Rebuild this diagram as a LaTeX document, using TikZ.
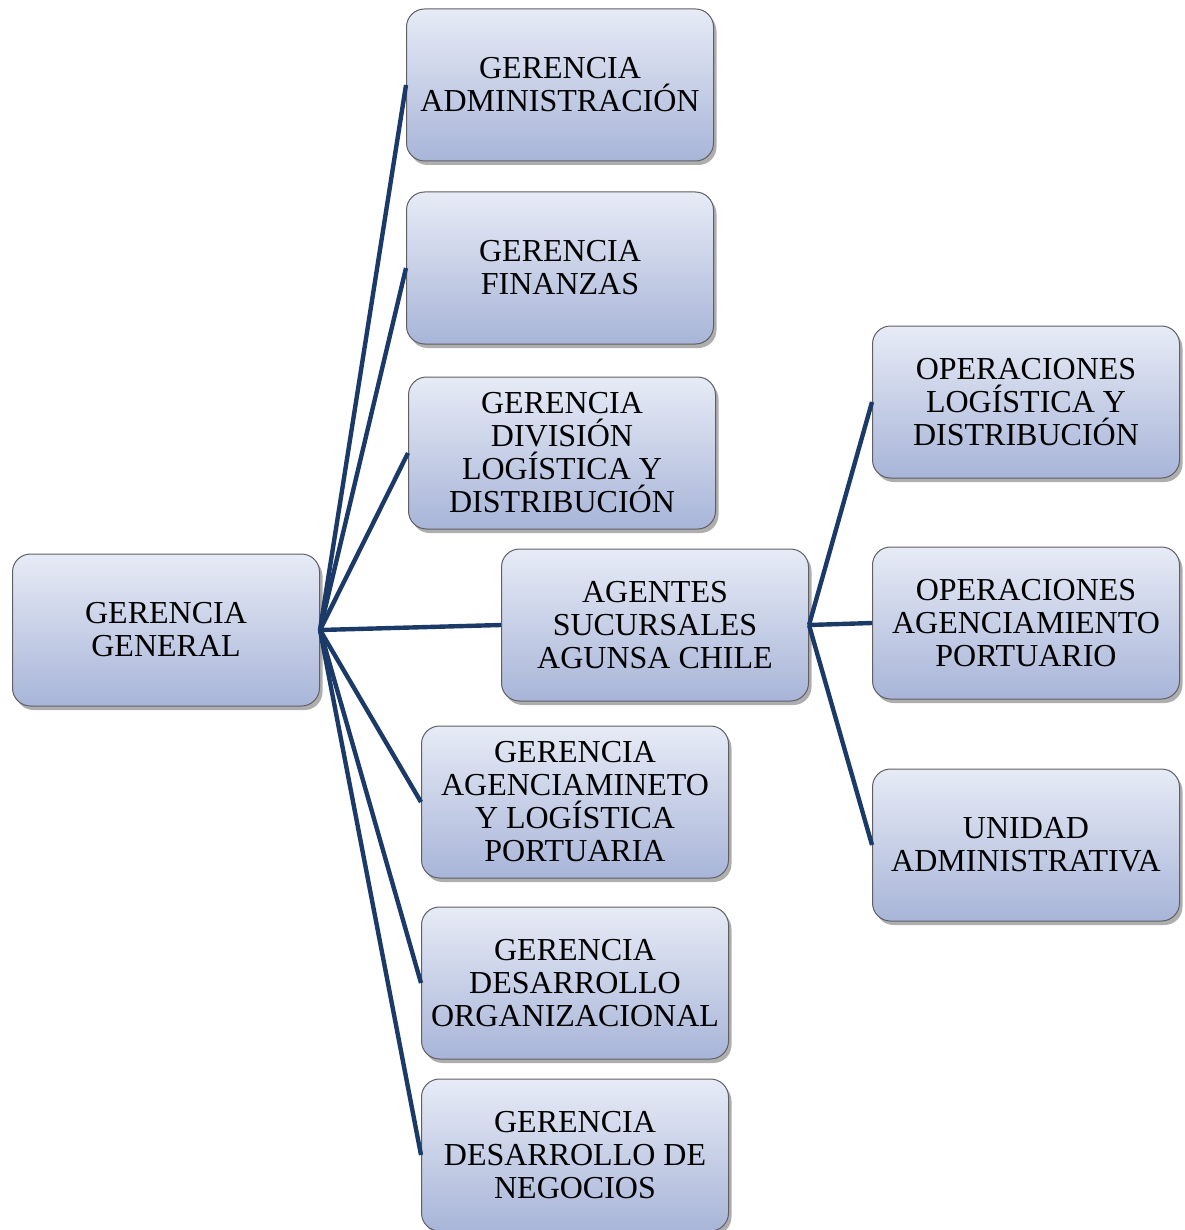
\documentclass[tikz,border=0pt]{standalone}
\usepackage{fontspec}
\setmainfont{Liberation Serif}
\usetikzlibrary{shadows}
\definecolor{boxtop}{RGB}{231,235,246}
\definecolor{boxbot}{RGB}{168,181,216}
\definecolor{boxedge}{RGB}{95,95,100}
\definecolor{linkblue}{RGB}{28,58,104}
\tikzset{
  unit/.style={draw=boxedge, line width=0.5pt, rounded corners=9pt,
    top color=boxtop, bottom color=boxbot,
    minimum width=153.5pt, minimum height=76pt, inner sep=2pt,
    align=center, font=\fontsize{16}{16.5}\selectfont,
    drop shadow={shadow xshift=1.5pt, shadow yshift=-2pt, opacity=0.45, fill=black!70}},
  link/.style={draw=linkblue, line width=2.2pt}
}
\begin{document}
\begin{tikzpicture}[x=0.5pt, y=-0.5pt]
\useasboundingbox (0,0) rectangle (1184,1230);
% root and first level
\node[unit] (gg)   at (166,630)  {GERENCIA\\GENERAL};
\node[unit] (adm)  at (560,85)   {GERENCIA\\ADMINISTRACIÓN};
\node[unit] (fin)  at (560,268)  {GERENCIA\\FINANZAS};
\node[unit] (div)  at (562,453)  {GERENCIA\\DIVISIÓN\\LOGÍSTICA Y\\DISTRIBUCIÓN};
\node[unit] (age)  at (655,625)  {AGENTES\\SUCURSALES\\AGUNSA CHILE};
\node[unit] (port) at (575,802)  {GERENCIA\\AGENCIAMINETO\\Y LOGÍSTICA\\PORTUARIA};
\node[unit] (org)  at (575,983)  {GERENCIA\\DESARROLLO\\ORGANIZACIONAL};
\node[unit] (neg)  at (575,1155) {GERENCIA\\DESARROLLO DE\\NEGOCIOS};
% second level under the branch agents
\node[unit] (opl)  at (1026,402) {OPERACIONES\\LOGÍSTICA Y\\DISTRIBUCIÓN};
\node[unit] (opa)  at (1026,623) {OPERACIONES\\AGENCIAMIENTO\\PORTUARIO};
\node[unit] (uad)  at (1026,845) {UNIDAD\\ADMINISTRATIVA};
% connectors
\foreach \t in {adm,fin,div,age,port,org,neg}
  \draw[link] (gg.east) -- (\t.west);
\foreach \t in {opl,opa,uad}
  \draw[link] (age.east) -- (\t.west);
\end{tikzpicture}
\end{document}
